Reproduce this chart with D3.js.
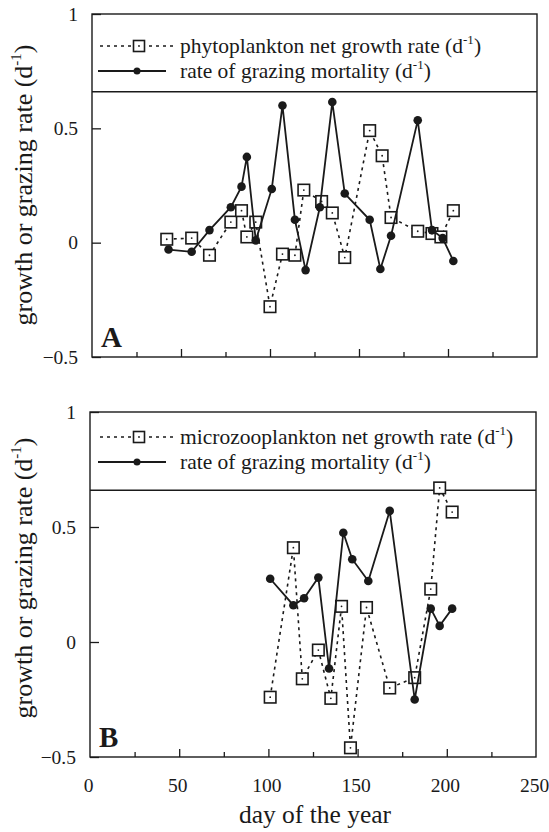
<!DOCTYPE html>
<html><head><meta charset="utf-8">
<script src="https://cdn.jsdelivr.net/npm/d3@7"></script>
<style>
html,body{margin:0;padding:0;background:#fff;}
svg text{font-family:"Liberation Serif","Times New Roman",serif;fill:#1a1a1a;}
</style></head>
<body>
<svg id="chart" width="549" height="832"></svg>
<script>
// ---- data ----
const xTicks = [0, 50, 100, 150, 200, 250];
const xMinorTicks = [25, 75, 125, 175, 225];
const yTicks = [-0.5, 0, 0.5, 1];

// Panel A
const phytoDay    = [42, 56, 66, 78, 84, 87, 92, 100, 107, 114, 119, 129, 135, 142, 156, 163, 168, 183, 191, 196, 203];
const phytoGrowth = [0.015, 0.02, -0.055, 0.09, 0.14, 0.025, 0.09, -0.28, -0.05, -0.055, 0.23, 0.18, 0.13, -0.065, 0.49, 0.38, 0.11, 0.05, 0.04, 0.025, 0.14];
const grazeADay   = [43, 56, 66, 78, 84, 87, 92, 101, 107, 114, 120, 128, 135, 142, 156, 162, 168, 183, 191, 197, 203];
const grazeA      = [-0.03, -0.04, 0.055, 0.155, 0.245, 0.375, 0.01, 0.235, 0.6, 0.1, -0.12, 0.155, 0.615, 0.215, 0.1, -0.115, 0.03, 0.535, 0.055, 0.02, -0.08];

// Panel B
const microDay    = [101, 114, 119, 128, 135, 141, 146, 155, 168, 182, 191, 196, 203];
const microGrowth = [-0.24, 0.41, -0.16, -0.035, -0.245, 0.155, -0.46, 0.15, -0.2, -0.155, 0.23, 0.67, 0.565];
const grazeBDay   = [101, 114, 120, 128, 134, 142, 147, 156, 168, 182, 191, 196, 203];
const grazeB      = [0.275, 0.16, 0.19, 0.28, -0.115, 0.475, 0.36, 0.265, 0.57, -0.25, 0.145, 0.07, 0.145];

const legendA = ["phytoplankton net growth rate (d", "rate of grazing mortality (d"];
const legendB = ["microzooplankton net growth rate (d", "rate of grazing mortality (d"];
const legendLineValue = 0.66;

const panels = [
  {label:"A", top:14, bottom:357, left:92, right:537, sqDay:phytoDay, sqVal:phytoGrowth, dotDay:grazeADay, dotVal:grazeA, legend:legendA, legY:[46,71], titleY:185, xLabels:false},
  {label:"B", top:412, bottom:757, left:90, right:536, sqDay:microDay, sqVal:microGrowth, dotDay:grazeBDay, dotVal:grazeB, legend:legendB, legY:[437,462], titleY:578, xLabels:true}
];

const ink = "#1a1a1a";
const serif = '"Liberation Serif","Times New Roman",serif';
const svg = d3.select("#chart");

panels.forEach(p => {
  const x = d3.scaleLinear().domain([0, 250]).range([p.left, p.right]);
  const y = d3.scaleLinear().domain([-0.5, 1]).range([p.bottom, p.top]);
  const g = svg.append("g");

  // frame
  g.append("rect").attr("x", p.left).attr("y", p.top)
    .attr("width", p.right - p.left).attr("height", p.bottom - p.top)
    .attr("fill", "none").attr("stroke", ink).attr("stroke-width", 1.4);
  // legend separator
  g.append("line").attr("x1", p.left).attr("x2", p.right)
    .attr("y1", y(legendLineValue)).attr("y2", y(legendLineValue))
    .attr("stroke", ink).attr("stroke-width", 1.4);

  // x axis ticks (inward)
  const xa = d3.axisBottom(x).tickValues(xTicks.filter(v => v > 0 && v < 250))
    .tickSize(-8).tickFormat("");
  const xg = g.append("g").attr("transform", `translate(0,${p.bottom})`).call(xa);
  const xm = d3.axisBottom(x).tickValues(xMinorTicks).tickSize(-5).tickFormat("");
  const xmg = g.append("g").attr("transform", `translate(0,${p.bottom})`).call(xm);
  [xg, xmg].forEach(a => { a.select(".domain").remove(); a.selectAll("line").attr("stroke", ink).attr("stroke-width", 1.3); });

  // y axis ticks inward + labels
  const ya = d3.axisLeft(y).tickValues(yTicks).tickSize(-9).tickPadding(14)
    .tickFormat(d => d3.format("")(d));
  const yg = g.append("g").attr("transform", `translate(${p.left},0)`).call(ya);
  yg.select(".domain").remove();
  yg.selectAll("line").attr("stroke", ink).attr("stroke-width", 1.3);
  yg.selectAll("text").style("font-size", "19.5px").style("fill", ink).style("font-family", serif);

  if (p.xLabels) {
    const xl = d3.axisBottom(x).tickValues(xTicks).tickSize(0).tickPadding(21);
    const xlg = g.append("g").attr("transform", `translate(0,${p.bottom})`).call(xl);
    xlg.select(".domain").remove();
    xlg.selectAll("text").attr("dx", -2).style("font-size", "19.5px").style("fill", ink).style("font-family", serif);
  }

  // y axis title
  const yt = g.append("text")
    .attr("transform", `translate(32,${p.titleY}) rotate(-90)`)
    .attr("text-anchor", "middle").style("font-size", "26px");
  yt.append("tspan").text("growth or grazing rate (d");
  yt.append("tspan").style("font-size", "15px").attr("dy", -11).text("-1");
  yt.append("tspan").attr("dy", 11).text(")");

  // panel letter
  g.append("text").attr("x", p.left + 9).attr("y", p.bottom - 10)
    .style("font-size", "29px").attr("font-weight", "bold").text(p.label);

  // dashed series
  const sq = p.sqDay.map((d, i) => [d, p.sqVal[i]]);
  const dt = p.dotDay.map((d, i) => [d, p.dotVal[i]]);
  const line = d3.line().x(d => x(d[0])).y(d => y(d[1]));
  g.append("path").datum(sq).attr("d", line).attr("fill", "none")
    .attr("stroke", ink).attr("stroke-width", 1.6).attr("stroke-dasharray", "3,4");
  const s = 11.5;
  g.selectAll(".sq").data(sq).enter().append("rect")
    .attr("x", d => x(d[0]) - s / 2).attr("y", d => y(d[1]) - s / 2)
    .attr("width", s).attr("height", s).attr("fill", "#fff")
    .attr("stroke", ink).attr("stroke-width", 1.6);
  g.selectAll(".sqc").data(sq).enter().append("circle")
    .attr("cx", d => x(d[0])).attr("cy", d => y(d[1])).attr("r", 0.9).attr("fill", ink);

  // solid series
  g.append("path").datum(dt).attr("d", line).attr("fill", "none")
    .attr("stroke", ink).attr("stroke-width", 1.8);
  g.selectAll(".dot").data(dt).enter().append("circle")
    .attr("cx", d => x(d[0])).attr("cy", d => y(d[1])).attr("r", 4.3).attr("fill", ink);

  // legend
  const lx0 = 100, lx1 = 176, lmid = 139;
  const r1 = p.legY[0], r2 = p.legY[1];
  g.append("line").attr("x1", lx0).attr("x2", lx1).attr("y1", r1).attr("y2", r1)
    .attr("stroke", ink).attr("stroke-width", 1.6).attr("stroke-dasharray", "3,4");
  g.append("rect").attr("x", lmid - 5.5).attr("y", r1 - 5.5).attr("width", 11).attr("height", 11)
    .attr("fill", "#fff").attr("stroke", ink).attr("stroke-width", 1.6);
  g.append("circle").attr("cx", lmid).attr("cy", r1).attr("r", 0.9).attr("fill", ink);
  g.append("line").attr("x1", lx0 - 2).attr("x2", lx1 - 10).attr("y1", r2).attr("y2", r2)
    .attr("stroke", ink).attr("stroke-width", 1.8);
  g.append("circle").attr("cx", lmid - 2).attr("cy", r2).attr("r", 3.5).attr("fill", ink);

  [r1, r2].forEach((ry, i) => {
    const t = g.append("text").attr("x", 180).attr("y", ry + 7).style("font-size", "21.5px");
    t.append("tspan").text(p.legend[i]);
    t.append("tspan").style("font-size", "13px").attr("dy", -9).text("-1");
    t.append("tspan").attr("dy", 9).text(")");
  });
});

svg.append("text").attr("x", 315).attr("y", 823).attr("text-anchor", "middle")
  .style("font-size", "25.5px").text("day of the year");
</script>
</body></html>
